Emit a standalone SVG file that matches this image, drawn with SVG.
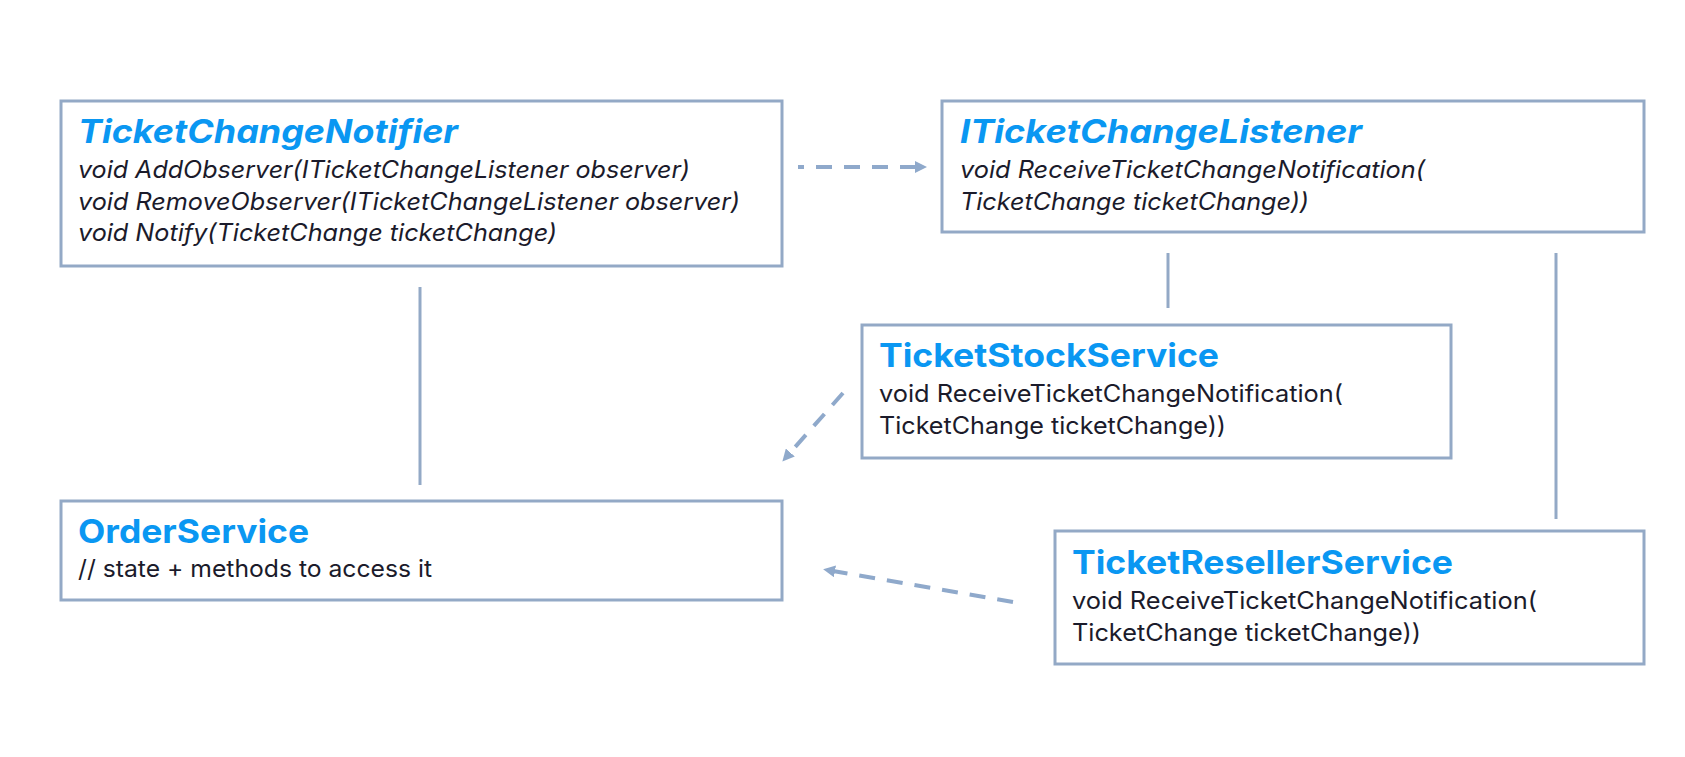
<svg xmlns="http://www.w3.org/2000/svg" width="1685" height="757" viewBox="0 0 1685 757">
<style>
.box{fill:#fff;stroke:#93a9c6;stroke-width:3}
.t{font-family:Inter,"Liberation Sans",sans-serif;font-weight:700;font-size:33px;fill:#0a97f2}
.ti{font-style:italic}
.b{font-family:Inter,"Liberation Sans",sans-serif;font-size:24px;fill:#1b1b2b}
.bi{font-style:italic}
.ln{stroke:#93a9c6;stroke-width:3;fill:none}
.ds{stroke:#8fa9cb;stroke-width:4;fill:none;stroke-dasharray:16 12}
</style>
<defs>
<marker id="ah" markerWidth="12" markerHeight="12" refX="2" refY="6" orient="auto" markerUnits="userSpaceOnUse">
<path d="M0,0 L12,6 L0,12 Z" fill="#8fa9cb"/>
</marker>
</defs>
<rect width="1685" height="757" fill="#fff"/>
<g id="connectors">
<line class="ds" x1="798" y1="167" x2="917" y2="167" stroke-dashoffset="10" marker-end="url(#ah)"/>
<line class="ln" x1="420" y1="287" x2="420" y2="485"/>
<line class="ln" x1="1168" y1="253" x2="1168" y2="308"/>
<line class="ln" x1="1556" y1="253" x2="1556" y2="519"/>
<line class="ds" x1="843" y1="393" x2="789" y2="454" marker-end="url(#ah)"/>
<line class="ds" x1="1013" y1="602" x2="833" y2="571" marker-end="url(#ah)"/>
</g>
<g id="TicketChangeNotifier">
<rect class="box" x="61" y="101" width="721" height="165"/>
<text class="t ti" x="78" y="143" textLength="380" lengthAdjust="spacingAndGlyphs">TicketChangeNotifier</text>
<text class="b bi" x="78" y="178" textLength="612" lengthAdjust="spacingAndGlyphs">void AddObserver(ITicketChangeListener observer)</text>
<text class="b bi" x="78" y="210" textLength="662" lengthAdjust="spacingAndGlyphs">void RemoveObserver(ITicketChangeListener observer)</text>
<text class="b bi" x="78" y="241" textLength="479" lengthAdjust="spacingAndGlyphs">void Notify(TicketChange ticketChange)</text>
</g>
<g id="ITicketChangeListener">
<rect class="box" x="942" y="101" width="702" height="131"/>
<text class="t ti" x="960" y="143" textLength="402" lengthAdjust="spacingAndGlyphs">ITicketChangeListener</text>
<text class="b bi" x="960" y="178" textLength="465" lengthAdjust="spacingAndGlyphs">void ReceiveTicketChangeNotification(</text>
<text class="b bi" x="960" y="210" textLength="349" lengthAdjust="spacingAndGlyphs">TicketChange ticketChange))</text>
</g>
<g id="TicketStockService">
<rect class="box" x="862" y="325" width="589" height="133"/>
<text class="t" x="879" y="367" textLength="340" lengthAdjust="spacingAndGlyphs">TicketStockService</text>
<text class="b" x="879" y="402" textLength="464" lengthAdjust="spacingAndGlyphs">void ReceiveTicketChangeNotification(</text>
<text class="b" x="879" y="434" textLength="347" lengthAdjust="spacingAndGlyphs">TicketChange ticketChange))</text>
</g>
<g id="OrderService">
<rect class="box" x="61" y="501" width="721" height="99"/>
<text class="t" x="78" y="543" textLength="231" lengthAdjust="spacingAndGlyphs">OrderService</text>
<text class="b" x="78" y="577" textLength="354" lengthAdjust="spacingAndGlyphs">// state + methods to access it</text>
</g>
<g id="TicketResellerService">
<rect class="box" x="1055" y="531" width="589" height="133"/>
<text class="t" x="1072" y="574" textLength="381" lengthAdjust="spacingAndGlyphs">TicketResellerService</text>
<text class="b" x="1072" y="609" textLength="465" lengthAdjust="spacingAndGlyphs">void ReceiveTicketChangeNotification(</text>
<text class="b" x="1072" y="641" textLength="349" lengthAdjust="spacingAndGlyphs">TicketChange ticketChange))</text>
</g>
</svg>
